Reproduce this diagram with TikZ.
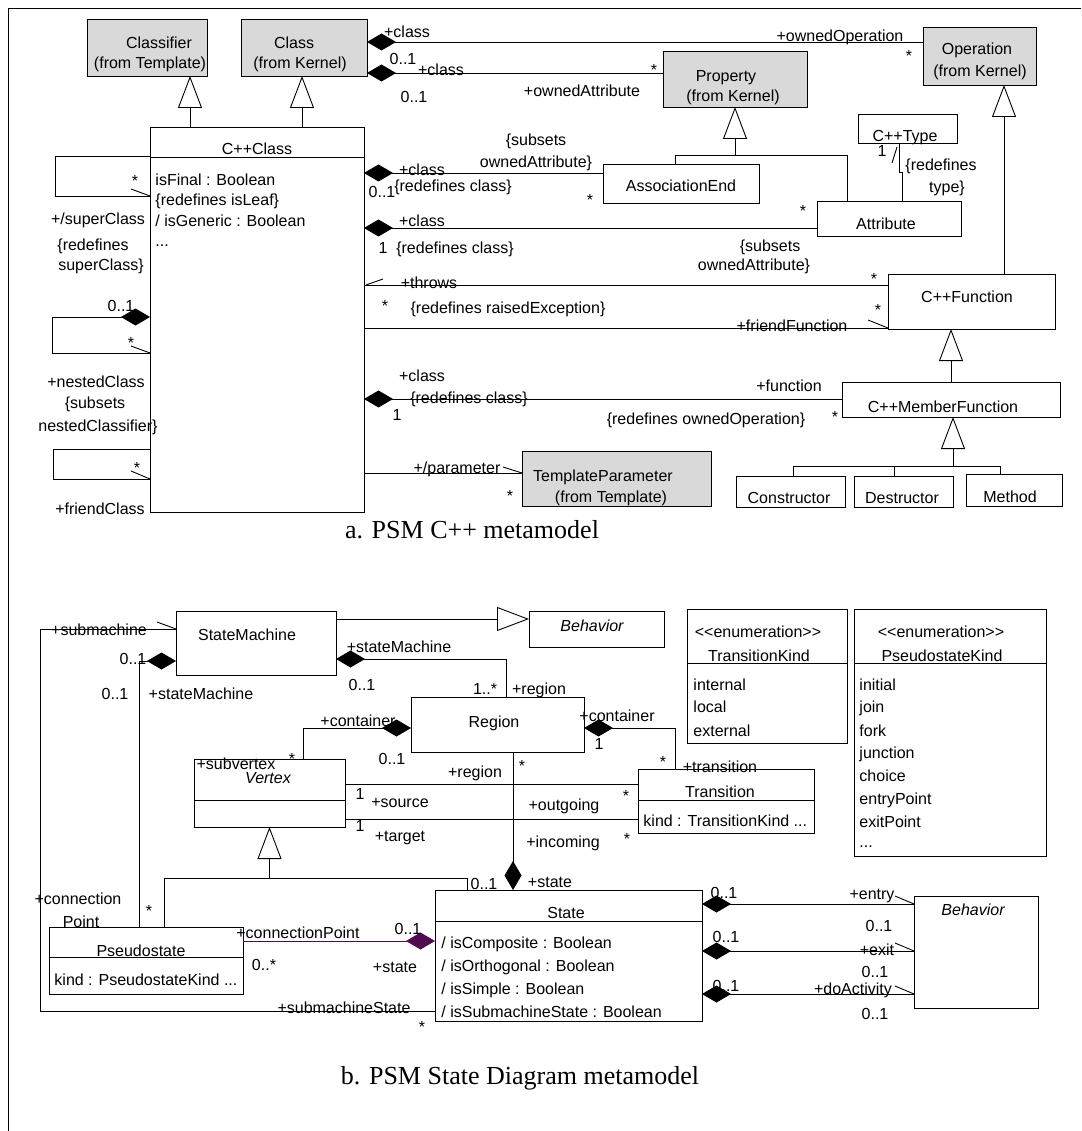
\documentclass[tikz,border=0pt]{standalone}
\usepackage{fontspec}
\setmainfont{Liberation Sans}
\newfontfamily\capfont{Liberation Serif}
\usetikzlibrary{arrows.meta}
\definecolor{kernelgray}{RGB}{217,217,217}
\definecolor{pointpurple}{RGB}{80,10,80}
\begin{document}
\begin{tikzpicture}[x=1pt, y=-1pt, line width=0.9pt,
	cls/.style={rectangle, draw, inner sep=0, outer sep=0, anchor=north west},
	ext/.style={cls, fill=kernelgray},
	txt/.style={inner sep=0, text height=11.5pt, text depth=3.5pt, font=\fontsize{16}{19}\selectfont},
	attr/.style={txt, anchor=west},
	caption/.style={inner sep=0, font=\capfont\fontsize{26}{30}\selectfont},
	comp/.style={{Diamond[length=29pt, width=17pt]}-},
	gen/.style={-{Triangle[open, length=32pt, width=24pt]}}]
	\useasboundingbox (0,0) rectangle (1081,1131);
	\draw (8,1131) -- (8,8) -- (1081,8);

	\node[ext, minimum width=120pt, minimum height=57pt] (classifier) at (87,19) {};
	\node[ext, minimum width=126pt, minimum height=57pt] (class) at (241,19) {};
	\node[ext, minimum width=113pt, minimum height=58pt] (operation) at (923,27) {};
	\node[ext, minimum width=144pt, minimum height=56pt] (property) at (663,51) {};
	\node[cls, minimum width=214pt, minimum height=385pt] (cppclass) at (150,127) {};
	\node[cls, minimum width=156pt, minimum height=39pt] (assocend) at (603,164) {};
	\node[cls, minimum width=99pt, minimum height=29pt] (cpptype) at (858,114) {};
	\node[cls, minimum width=144pt, minimum height=35pt] (attribute) at (817,201) {};
	\node[cls, minimum width=167pt, minimum height=55pt] (cppfunction) at (888,274) {};
	\node[cls, minimum width=218pt, minimum height=35pt] (memberfunction) at (842,382) {};
	\node[cls, minimum width=109pt, minimum height=31pt] (constructor) at (736,476) {};
	\node[cls, minimum width=99pt, minimum height=31pt] (destructor) at (854,476) {};
	\node[cls, minimum width=96pt, minimum height=32pt] (method) at (966,474) {};
	\node[ext, minimum width=189pt, minimum height=55pt] (templateparam) at (522,451) {};
	\draw (cppclass.west |- 0,157) -- (cppclass.east |- 0,157);

	\node[txt] (classifiername) at (159,45) {Classifier};
	\node[txt] (classifierpkg) at (150,65) {(from Template)};
	\node[txt] (classname) at (294,45) {Class};
	\node[txt] (classpkg) at (300,65) {(from Kernel)};
	\node[txt] (operationname) at (977,51) {Operation};
	\node[txt] (operationpkg) at (980,73) {(from Kernel)};
	\node[txt] (propertyname) at (726,78) {Property};
	\node[txt] (propertypkg) at (733,98) {(from Kernel)};
	\node[txt] (cppclassname) at (257,151) {C++Class};
	\node[attr] (isfinal) at (155,182) {isFinal : Boolean};
	\node[attr] (isleaf) at (155,202) {\{redefines isLeaf\}};
	\node[attr] (isgeneric) at (155,223) {/ isGeneric : Boolean};
	\node[attr] (cppclassmore) at (155,243) {...};
	\node[txt] (assocendname) at (681,188) {AssociationEnd};
	\node[txt] (cpptypename) at (905,138) {C++Type};
	\node[txt] (attributename) at (886,226) {Attribute};
	\node[txt] (cppfunctionname) at (967,298) {C++Function};
	\node[txt] (memberfunctionname) at (943,408) {C++MemberFunction};
	\node[txt] (constructorname) at (789,499) {Constructor};
	\node[txt] (destructorname) at (902,499) {Destructor};
	\node[txt] (methodname) at (1010,498) {Method};
	\node[txt] (templateparamname) at (603,477) {TemplateParameter};
	\node[txt] (templateparampkg) at (611,498) {(from Template)};

	\draw[gen] (cppclass.north -| 190,0) -- (classifier.south -| 190,0);
	\draw[gen] (cppclass.north -| 302,0) -- (class.south -| 302,0);
	\draw[comp] (class.east |- 0,42) -- (operation.west |- 0,42);
	\draw[comp] (class.east |- 0,73) -- (property.west |- 0,73);
	\draw (assocend.north -| 675,0) -- ++(0,-9) -| (attribute.north -| 847,0);
	\draw[gen] (property.south |- 0,155) -- (property.south);
	\draw (attribute.north -| 902,0) -- ++(0,-29) -- ++(-3,0) -- (cpptype.south -| 899,0);
	\draw (cpptype.south -| 897,0) ++(0,4) -- ++(-5,16);
	\draw[comp] (cppclass.east |- 0,173) -- (assocend.west |- 0,173);
	\draw[comp] (cppclass.east |- 0,228) -- (attribute.west |- 0,228);
	\draw (cppclass.east |- 0,285) -- (cppfunction.west |- 0,285);
	\draw (cppclass.east |- 0,285) ++(2,0) -- ++(17,-6);
	\draw (cppclass.east |- 0,328) -- (cppfunction.west |- 0,328);
	\draw (cppfunction.west |- 0,328) -- ++(-20,-8);
	\draw[gen] (cppfunction.north -| 1004,0) -- (operation.south -| 1004,0);
	\draw[gen] (memberfunction.north -| 951,0) -- (cppfunction.south -| 951,0);
	\draw[comp] (cppclass.east |- 0,399) -- (memberfunction.west |- 0,399);
	\draw (constructor.north -| 793,0) -- ++(0,-10) -| (method.north -| 1000,0);
	\draw (destructor.north -| 894,0) -- ++(0,-10);
	\draw[gen] (destructor.north -| 953,0) ++(0,-10) -- (memberfunction.south -| 953,0);
	\draw (cppclass.east |- 0,473) -- (templateparam.west |- 0,473);
	\draw (templateparam.west |- 0,473) -- ++(-19,-6);
	\draw (cppclass.west |- 0,156) -- ++(-95,0) -- ++(0,40) -- (cppclass.west |- 0,196);
	\draw (cppclass.west |- 0,196) -- ++(-19,-7);
	\draw[comp] (cppclass.west |- 0,317) -- ++(-98,0) -- ++(0,36) -- (cppclass.west |- 0,353);
	\draw (cppclass.west |- 0,353) -- ++(-19,-7);
	\draw (cppclass.west |- 0,449) -- ++(-97,0) -- ++(0,30) -- (cppclass.west |- 0,479);
	\draw (cppclass.west |- 0,479) -- ++(-19,-8);

	\node[txt] (superstar) at (135,183) {*};
	\node[txt] (superrole) at (98,221) {+/superClass};
	\node[txt] (superredef) at (93,247) {\{redefines};
	\node[txt] (superredefname) at (101,267) {superClass\}};
	\node[txt] (nestedmult) at (121,307) {0..1};
	\node[txt] (nestedstar) at (131,344) {*};
	\node[txt] (nestedrole) at (96,383) {+nestedClass};
	\node[txt] (nestedsubsets) at (95,404) {\{subsets};
	\node[txt] (nestedsubsetsname) at (98,427) {nestedClassifier\}};
	\node[txt] (friendstar) at (137,469) {*};
	\node[txt] (friendrole) at (100,510) {+friendClass};
	\node[txt] (opclassrole) at (407,34) {+class};
	\node[txt] (ownedoprole) at (840,38) {+ownedOperation};
	\node[txt] (ownedopstar) at (909,58) {*};
	\node[txt] (propclassmult) at (403,61) {0..1};
	\node[txt] (propclassrole) at (441,72) {+class};
	\node[txt] (propclassmultb) at (414,99) {0..1};
	\node[txt] (ownedattrrole) at (582,93) {+ownedAttribute};
	\node[txt] (ownedattrstar) at (654,72) {*};
	\node[txt] (endsubsets) at (536,142) {\{subsets};
	\node[txt] (endsubsetsname) at (536,164) {ownedAttribute\}};
	\node[txt] (endclassrole) at (422,172) {+class};
	\node[txt] (endclassmult) at (382,194) {0..1};
	\node[txt] (endclassredef) at (453,188) {\{redefines class\}};
	\node[txt] (endstar) at (590,202) {*};
	\node[txt] (typemult) at (882,153) {1};
	\node[txt] (typeredef) at (941,167) {\{redefines};
	\node[txt] (typeredefname) at (947,189) {type\}};
	\node[txt] (attrclassrole) at (422,223) {+class};
	\node[txt] (attrclassmult) at (383,250) {1};
	\node[txt] (attrclassredef) at (455,250) {\{redefines class\}};
	\node[txt] (attrstar) at (803,213) {*};
	\node[txt] (attrsubsets) at (770,248) {\{subsets};
	\node[txt] (attrsubsetsname) at (754,267) {ownedAttribute\}};
	\node[txt] (throwsrole) at (429,285) {+throws};
	\node[txt] (throwsstar) at (874,281) {*};
	\node[txt] (throwsstarb) at (385,308) {*};
	\node[txt] (throwsredef) at (508,309) {\{redefines raisedException\}};
	\node[txt] (friendfunstar) at (878,312) {*};
	\node[txt] (friendfunrole) at (792,327) {+friendFunction};
	\node[txt] (memberclassrole) at (422,377) {+class};
	\node[txt] (memberclassredef) at (469,399) {\{redefines class\}};
	\node[txt] (memberclassmult) at (397,416) {1};
	\node[txt] (memberrole) at (789,387) {+function};
	\node[txt] (memberstar) at (835,418) {*};
	\node[txt] (memberredef) at (706,420) {\{redefines ownedOperation\}};
	\node[txt] (paramrole) at (457,469) {+/parameter};
	\node[txt] (paramstar) at (510,497) {*};
	\node[caption] (captiona) at (472,530) {a. PSM C++ metamodel};

	\node[cls, minimum width=160pt, minimum height=64pt] (statemachine) at (176,611) {};
	\node[cls, minimum width=135pt, minimum height=36pt] (behavior) at (529,611) {};
	\node[cls, minimum width=160pt, minimum height=134pt] (transitionkind) at (687,609) {};
	\node[cls, minimum width=192pt, minimum height=247pt] (pseudostatekind) at (854,609) {};
	\node[cls, minimum width=173pt, minimum height=55pt] (region) at (411,697) {};
	\node[cls, minimum width=151pt, minimum height=68pt] (vertex) at (194,759) {};
	\node[cls, minimum width=176pt, minimum height=64pt] (transition) at (638,769) {};
	\node[cls, minimum width=194pt, minimum height=67pt] (pseudostate) at (49,927) {};
	\node[cls, minimum width=267pt, minimum height=131pt] (state) at (435,890) {};
	\node[cls, minimum width=124pt, minimum height=112pt] (stbehavior) at (914,896) {};
	\draw (transitionkind.west |- 0,663) -- (transitionkind.east |- 0,663);
	\draw (pseudostatekind.west |- 0,663) -- (pseudostatekind.east |- 0,663);
	\draw (vertex.west |- 0,800) -- (vertex.east |- 0,800);
	\draw (transition.west |- 0,800) -- (transition.east |- 0,800);
	\draw (pseudostate.west |- 0,957) -- (pseudostate.east |- 0,957);
	\draw (state.west |- 0,921) -- (state.east |- 0,921);

	\node[txt] (statemachinename) at (247,636) {StateMachine};
	\node[txt, font=\fontsize{16}{19}\selectfont\itshape] (behaviorname) at (592,627) {Behavior};
	\node[txt] (transitionkindtag) at (758,633) {<\kern0pt<enumeration>\kern0pt>};
	\node[txt] (transitionkindname) at (759,657) {TransitionKind};
	\node[attr] (internal) at (693,686) {internal};
	\node[attr] (local) at (693,708) {local};
	\node[attr] (external) at (693,732) {external};
	\node[txt] (pseudostatekindtag) at (941,633) {<\kern0pt<enumeration>\kern0pt>};
	\node[txt] (pseudostatekindname) at (942,657) {PseudostateKind};
	\node[attr] (initial) at (859,686) {initial};
	\node[attr] (join) at (859,708) {join};
	\node[attr] (fork) at (859,732) {fork};
	\node[attr] (junction) at (859,754) {junction};
	\node[attr] (choice) at (859,777) {choice};
	\node[attr] (entrypoint) at (859,800) {entryPoint};
	\node[attr] (exitpoint) at (859,823) {exitPoint};
	\node[attr] (kindmore) at (859,843) {...};
	\node[txt] (regionname) at (494,723) {Region};
	\node[txt, text height=9pt, text depth=1pt, font=\fontsize{16}{19}\selectfont\itshape] (vertexname) at (268,779) {Vertex};
	\node[txt] (transitionname) at (720,793) {Transition};
	\node[attr] (transitionattr) at (643,822) {kind : TransitionKind  ...};
	\node[txt] (pseudostatename) at (141,952) {Pseudostate};
	\node[attr] (pseudostateattr) at (54,981) {kind : PseudostateKind  ...};
	\node[txt] (statename) at (566,914) {State};
	\node[attr] (iscomposite) at (441,944) {/ isComposite : Boolean};
	\node[attr] (isorthogonal) at (441,967) {/ isOrthogonal : Boolean};
	\node[attr] (issimple) at (441,990) {/ isSimple : Boolean};
	\node[attr] (issubmachine) at (441,1013) {/ isSubmachineState : Boolean};
	\node[txt, font=\fontsize{16}{19}\selectfont\itshape] (stbehaviorname) at (973,911) {Behavior};

	\draw[gen] (statemachine.east |- 0,619) -- (behavior.west |- 0,619);
	\draw (statemachine.west |- 0,629) -- ++(-136,0) |- (state.west |- 0,1011);
	\draw (statemachine.west |- 0,629) -- ++(-19,-7);
	\draw[comp] (statemachine.west |- 0,661) -| (pseudostate.north -| 139,0);
	\draw[comp] (statemachine.east |- 0,659) -| (region.north -| 506,0);
	\draw[comp] (region.west |- 0,728) -| (vertex.north -| 303,0);
	\draw[comp] (region.east |- 0,728) -| (transition.north -| 675,0);
	\draw (vertex.east |- 0,784) -- (transition.west |- 0,784);
	\draw (vertex.east |- 0,819) -- (transition.west |- 0,819);
	\draw[comp] (state.north -| 513,0) -- (region.south -| 513,0);
	\draw[comp, pointpurple] (state.west |- 0,941) -- (pseudostate.east |- 0,941);
	\draw (pseudostate.north -| 164,0) -- ++(0,-49) -| (state.north -| 467,0);
	\draw[gen] (vertex.south |- 0,878) -- (vertex.south);
	\draw[comp] (state.east |- 0,904) -- (stbehavior.west |- 0,904);
	\draw (stbehavior.west |- 0,904) -- ++(-19,-8);
	\draw[comp] (state.east |- 0,951) -- (stbehavior.west |- 0,951);
	\draw (stbehavior.west |- 0,951) -- ++(-19,-8);
	\draw[comp] (state.east |- 0,994) -- (stbehavior.west |- 0,994);
	\draw (stbehavior.west |- 0,994) -- ++(-19,-8);

	\node[txt] (submachinerole) at (99,631) {+submachine};
	\node[txt] (pointownermult) at (133,660) {0..1};
	\node[txt] (submachinemult) at (115,695) {0..1};
	\node[txt] (pointownerrole) at (201,695) {+stateMachine};
	\node[txt] (regionownerrole) at (399,648) {+stateMachine};
	\node[txt] (regionownermult) at (362,686) {0..1};
	\node[txt] (regionmult) at (485,690) {1..*};
	\node[txt] (regionrole) at (539,690) {+region};
	\node[txt] (vertexcontainer) at (358,722) {+container};
	\node[txt] (vertexstar) at (292,760) {*};
	\node[txt] (vertexcontainermult) at (392,760) {0..1};
	\node[txt, text height=10pt, text depth=0pt] (subvertexrole) at (236,764) {+subvertex};
	\node[txt] (transcontainer) at (617,717) {+container};
	\node[txt] (transcontainermult) at (599,745) {1};
	\node[txt] (transstar) at (663,763) {*};
	\node[txt] (transrole) at (720,768) {+transition};
	\node[txt] (sourcemult) at (360,795) {1};
	\node[txt] (sourcerole) at (400,803) {+source};
	\node[txt] (targetmult) at (360,827) {1};
	\node[txt] (targetrole) at (400,837) {+target};
	\node[txt] (stateregionrole) at (475,773) {+region};
	\node[txt] (stateregionstar) at (522,767) {*};
	\node[txt] (outgoingrole) at (564,806) {+outgoing};
	\node[txt] (outgoingstar) at (626,797) {*};
	\node[txt] (incomingrole) at (563,843) {+incoming};
	\node[txt] (incomingstar) at (627,840) {*};
	\node[txt] (connectionrole) at (78,900) {+connection};
	\node[txt] (connectionroleb) at (81,923) {Point};
	\node[txt] (connectionstar) at (149,912) {*};
	\node[txt] (pointrole) at (298,934) {+connectionPoint};
	\node[txt] (pointmult) at (408,930) {0..1};
	\node[txt] (pointmultb) at (264,966) {0..*};
	\node[txt] (pointstaterole) at (395,968) {+state};
	\node[txt] (submachinestaterole) at (344,1009) {+submachineState};
	\node[txt] (submachinestatestar) at (422,1028) {*};
	\node[txt] (regionstatemult) at (484,885) {0..1};
	\node[txt] (regionstaterole) at (550,883) {+state};
	\node[txt] (entrymult) at (724,894) {0..1};
	\node[txt] (exitmult) at (726,938) {0..1};
	\node[txt] (domult) at (726,987) {0..1};
	\node[txt] (entryrole) at (872,895) {+entry};
	\node[txt] (entrymultb) at (879,927) {0..1};
	\node[txt] (exitrole) at (877,951) {+exit};
	\node[txt] (exitmultb) at (875,973) {0..1};
	\node[txt] (dorole) at (853,990) {+doActivity};
	\node[txt] (domultb) at (875,1015) {0..1};
	\node[caption] (captionb) at (520,1078) {b. PSM State Diagram metamodel};
\end{tikzpicture}
\end{document}
